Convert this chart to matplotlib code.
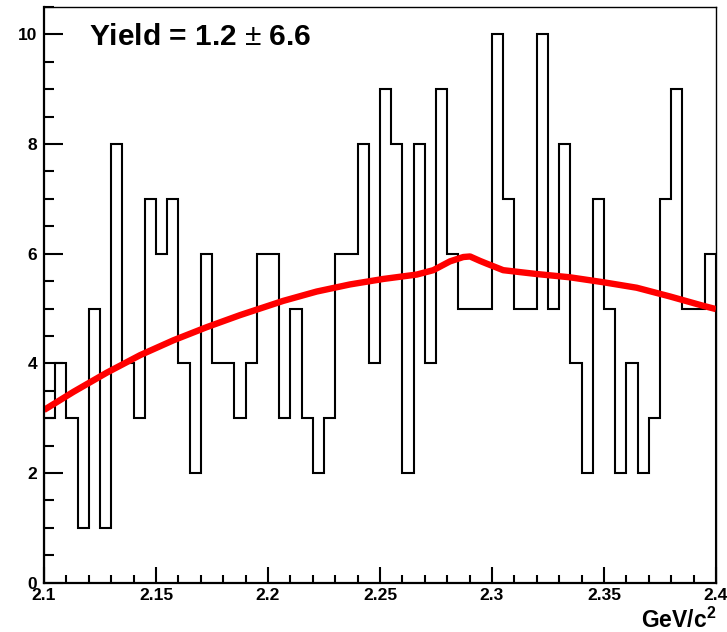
import numpy as np
import matplotlib
matplotlib.use("Agg")
import matplotlib.pyplot as plt
from matplotlib.ticker import MultipleLocator

plt.rcParams['font.family'] = ['Liberation Sans', 'DejaVu Sans']
plt.rcParams['mathtext.fontset'] = 'custom'
plt.rcParams['mathtext.rm'] = 'Liberation Sans'
plt.rcParams['mathtext.bf'] = 'Liberation Sans:bold'

# histogram counts, 60 bins from 2.1 to 2.4
x_min, x_max = 2.1, 2.4
counts = [3, 4, 3, 1, 5, 1, 8, 4, 3, 7,
          6, 7, 4, 2, 6, 4, 4, 3, 4, 6,
          6, 3, 5, 3, 2, 3, 6, 6, 8, 4,
          9, 8, 2, 8, 4, 9, 6, 5, 5, 5,
          10, 7, 5, 5, 10, 5, 8, 4, 2, 7,
          5, 2, 4, 2, 3, 7, 9, 5, 5, 6]

# fit curve
fit_x = [2.1000, 2.1131, 2.1280, 2.1429, 2.1577, 2.1726, 2.1875, 2.1964,
         2.2068, 2.2217, 2.2366, 2.2515, 2.2664, 2.2738, 2.2812, 2.2872,
         2.2902, 2.2946, 2.2976, 2.3050, 2.3199, 2.3348, 2.3497, 2.3646,
         2.3795, 2.3943, 2.4000]
fit_y = [3.15, 3.48, 3.83, 4.15, 4.42, 4.66, 4.88, 5.00,
         5.14, 5.31, 5.44, 5.54, 5.62, 5.70, 5.86, 5.94,
         5.95, 5.87, 5.82, 5.70, 5.63, 5.57, 5.48, 5.38,
         5.22, 5.05, 4.99]

y_max = 10.5
yield_text = r'Yield = 1.2 $\pm$ 6.6'
x_title = r'GeV/c$^{\mathbf{2}}$'

fig = plt.figure(figsize=(7.27, 6.32), dpi=100)
ax = fig.add_axes([44/727, 49.3/632, (716-44)/727, (625-49.3)/632])

edges = np.linspace(x_min, x_max, len(counts) + 1)
ax.stairs(counts, edges, color='black', linewidth=1.5, baseline=0)
ax.plot(fit_x, fit_y, color='#ff0000', linewidth=4.6, solid_capstyle='butt',
        solid_joinstyle='round')

ax.set_xlim(x_min, x_max)
ax.set_ylim(0, y_max)

ax.xaxis.set_major_locator(MultipleLocator(0.05))
ax.xaxis.set_minor_locator(MultipleLocator(0.01))
ax.yaxis.set_major_locator(MultipleLocator(2))
ax.yaxis.set_minor_locator(MultipleLocator(0.5))
ax.set_xticks([2.1, 2.15, 2.2, 2.25, 2.3, 2.35, 2.4])
ax.set_xticklabels(['2.1', '2.15', '2.2', '2.25', '2.3', '2.35', '2.4'])

ax.tick_params(axis='x', which='major', direction='in', length=11.5, width=1.5,
               labelsize=12.5, pad=4)
ax.tick_params(axis='x', which='minor', direction='in', length=5.8, width=1.5)
ax.tick_params(axis='y', which='major', direction='in', length=13.5, width=1.5,
               labelsize=12.5, pad=5)
ax.tick_params(axis='y', which='minor', direction='in', length=7, width=1.5)
for lab in ax.get_xticklabels() + ax.get_yticklabels():
    lab.set_fontweight('bold')

ax.spines['left'].set_linewidth(1.6)
ax.spines['bottom'].set_linewidth(1.6)
ax.spines['top'].set_linewidth(1.0)
ax.spines['right'].set_linewidth(1.0)

fig.text(89/727, 1 - 45/632, yield_text, fontsize=21.5, fontweight='bold',
         ha='left', va='baseline')
fig.text(716/727, 4/632, x_title, fontsize=16.5, fontweight='bold',
         ha='right', va='baseline')

fig.savefig('out.png', dpi=100)
